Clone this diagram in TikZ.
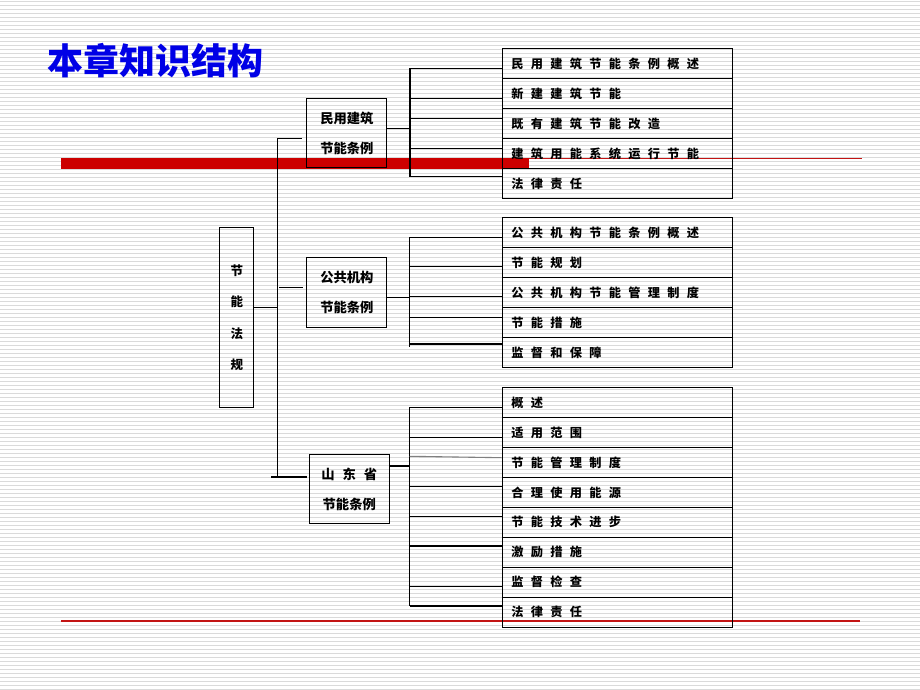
\documentclass[tikz,border=0pt]{standalone}
\usepackage{fontspec}
\setmainfont{Noto Sans CJK SC}
\newfontfamily\cjkwide[LetterSpace=60]{Noto Sans CJK SC}
\usepackage{tikz}
\definecolor{titleBlue}{RGB}{0, 0, 230}
\definecolor{barRed}{RGB}{204, 0, 0}
\definecolor{lineRed}{RGB}{195, 20, 20}
\definecolor{stripeGray}{RGB}{218, 218, 218}

\begin{document}
\begin{tikzpicture}[x=1pt,y=-1pt,
                rootbox/.style={draw,line width=1.1pt,minimum width=34pt,minimum height=180pt,
                                anchor=north west,inner sep=0pt,align=center,
                                font=\fontsize{12.5}{31.5}\selectfont\bfseries},
                lawbox/.style={draw,line width=1.1pt,minimum width=80pt,minimum height=69pt,
                               anchor=north west,inner sep=0pt,align=center,
                               font=\fontsize{13.3}{30}\selectfont\bfseries},
                itembox/.style={draw,line width=1.1pt,minimum width=230pt,minimum height=30pt,
                                anchor=north west,inner xsep=9pt,inner ysep=0pt,
                                text width=212pt,align=left,
                                font=\cjkwide\fontsize{12.2}{14}\selectfont\bfseries},
                link/.style={line width=1.1pt}
            ]
                \useasboundingbox (0,0) rectangle (920,690);
                % lined background
                \fill[white] (0,0) rectangle (920,690);
                \foreach \k in {0,...,172}
                    \draw[stripeGray,line width=1.4pt] (0,{1.7+4*\k}) -- (920,{1.7+4*\k});
                % red rules
                \fill[barRed] (61,158.3) rectangle (529,169.3);
                \draw[lineRed,line width=1.1pt] (529,158.6) -- (862,158.6);
                \draw[lineRed,line width=1.1pt] (61,621) -- (860,621);

                \node[font=\fontsize{36}{40}\selectfont\bfseries,text=titleBlue,anchor=west,inner sep=0pt]
                    (title) at (47,61) {本章知识结构};

                \node[rootbox] (root) at (219.3,227.3) {节\\能\\法\\规};

                \node[lawbox] (civil) at (306.3,98.3) {民用建筑\\节能条例};
                \node[lawbox,minimum height=70pt] (public) at (306.3,257.3) {公共机构\\节能条例};
                \node[lawbox] (shandong) at (308.7,454.3) {{\cjkwide 山东省}\\节能条例};

                % 民用建筑节能条例
                \node[itembox] (c1) at (501.7,48.3) {民用建筑节能条例概述};
                \node[itembox] (c2) at (501.7,78.3) {新建建筑节能};
                \node[itembox] (c3) at (501.7,108.3) {既有建筑节能改造};
                \node[itembox] (c4) at (501.7,138.3) {建筑用能系统运行节能};
                \node[itembox] (c5) at (501.7,168.3) {法律责任};
                % 公共机构节能条例
                \node[itembox] (p1) at (501.7,217.3) {公共机构节能条例概述};
                \node[itembox] (p2) at (501.7,247.3) {节能规划};
                \node[itembox] (p3) at (501.7,277.3) {公共机构节能管理制度};
                \node[itembox] (p4) at (501.7,307.3) {节能措施};
                \node[itembox] (p5) at (501.7,337.3) {监督和保障};
                % 山东省节能条例
                \node[itembox] (s1) at (501.7,387.3) {概述};
                \node[itembox] (s2) at (501.7,417.3) {适用范围};
                \node[itembox] (s3) at (501.7,447.3) {节能管理制度};
                \node[itembox] (s4) at (501.7,477) {合理使用能源};
                \node[itembox] (s5) at (501.7,506.7) {节能技术进步};
                \node[itembox] (s6) at (501.7,536.5) {激励措施};
                \node[itembox] (s7) at (501.7,566.7) {监督检查};
                \node[itembox] (s8) at (501.7,596.7) {法律责任};

                % trunk
                \coordinate (trunktop) at (277.7,138.3);
                \coordinate (trunkbot) at (277.7,476.7);
                \coordinate (rootjoin) at (277.7,307.7);
                \coordinate (pubjoin) at (279,287.3);
                \coordinate (sdjoin) at (271,477);
                \draw[link] (trunktop) -- (trunkbot);
                \draw[link] (root.east |- rootjoin) -- (rootjoin);
                \draw[link,shorten >=4.5pt] (trunktop) -- (civil.west |- trunktop);
                \draw[link,shorten >=3.5pt] (pubjoin) -- (public.west |- pubjoin);
                \draw[link,shorten >=2pt] (sdjoin) -- (shandong.west |- sdjoin);

                % brackets
                \coordinate (civtop) at (410,68.3);
                \coordinate (civbot) at (410,176.7);
                \coordinate (civjoin) at (410,128.3);
                \draw[link] (civtop) -- (civbot);
                \draw[link] (civil.east |- civjoin) -- (civjoin);
                \foreach \y/\n in {68.3/c1,98.3/c2,118.3/c3,148.3/c4,176.7/c5}
                    \draw[link] (410,\y) -- (\n.west |- 0,\y);

                \coordinate (pubtop) at (409.3,237.3);
                \coordinate (pubbot) at (409.3,347.3);
                \coordinate (pubmid) at (409.3,297.3);
                \draw[link] (pubtop) -- (pubbot);
                \draw[link] (public.east |- pubmid) -- (pubmid);
                \foreach \y/\n in {237.3/p1,266.7/p2,296.7/p3,317.3/p4,344/p5}
                    \draw[link] (409.3,\y) -- (\n.west |- 0,\y);

                \coordinate (sdtop) at (409.7,407.3);
                \coordinate (sdbot) at (409.7,606);
                \coordinate (sdmid) at (409.7,466);
                \draw[link] (sdtop) -- (sdbot);
                \draw[link] (shandong.east |- sdmid) -- (sdmid);
                \foreach \y/\n in {407.3/s1,437.3/s2,486.7/s4,516.7/s5,546/s6,586.7/s7,606/s8}
                    \draw[link] (409.7,\y) -- (\n.west |- 0,\y);
                \draw[link,gray] (409.7,456.3) -- (s3.west |- 0,457.7);
            \end{tikzpicture}
\end{document}
